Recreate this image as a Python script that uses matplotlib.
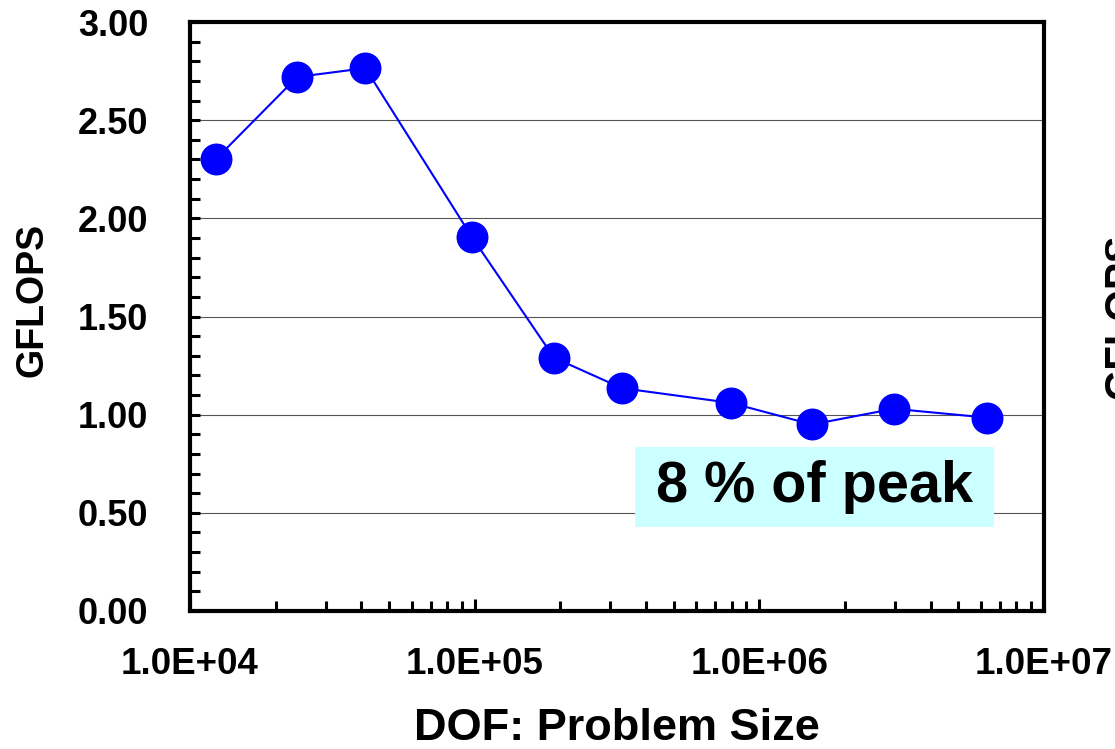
import matplotlib.pyplot as plt
import matplotlib.patches as patches
import matplotlib.ticker as ticker
import numpy as np

# Problem size (degrees of freedom) and measured performance
dof = [1.23e4, 2.38e4, 4.13e4, 9.78e4, 1.90e5, 3.29e5, 7.94e5, 1.53e6, 2.97e6, 6.30e6]
gflops = [2.30, 2.72, 2.765, 1.905, 1.29, 1.135, 1.06, 0.95, 1.03, 0.985]

x_ticks = [1e4, 1e5, 1e6, 1e7]
x_tick_labels = ['1.0E+04', '1.0E+05', '1.0E+06', '1.0E+07']
y_ticks = [0.0, 0.5, 1.0, 1.5, 2.0, 2.5, 3.0]

plt.rcParams['font.family'] = ['Liberation Sans', 'DejaVu Sans']
plt.rcParams['font.weight'] = 'bold'

fig = plt.figure(figsize=(11.15, 7.49), dpi=100)
ax = fig.add_axes([190 / 1115, 138 / 749, 854 / 1115, 589 / 749])

ax.plot(dof, gflops, color='#0000FF', linewidth=1.5, marker='o',
        markersize=23, markeredgewidth=0, zorder=5)

ax.set_xscale('log')
ax.set_xlim(1e4, 1e7)
ax.set_ylim(0, 3)
ax.set_xticks(x_ticks)
ax.xaxis.set_major_formatter(ticker.FixedFormatter(x_tick_labels))
ax.xaxis.set_minor_locator(ticker.LogLocator(base=10, subs=np.arange(2, 10)))
ax.xaxis.set_minor_formatter(ticker.NullFormatter())
ax.set_yticks(y_ticks)
ax.yaxis.set_major_formatter(ticker.FormatStrFormatter('%.2f'))
ax.yaxis.set_minor_locator(ticker.MultipleLocator(0.1))

ax.tick_params(which='both', direction='in', width=2.2, colors='black')
ax.tick_params(axis='x', which='major', length=9, pad=26, labelsize=26.5)
ax.tick_params(axis='x', which='minor', length=7)
ax.tick_params(axis='y', which='major', length=7, pad=30, labelsize=26)
ax.tick_params(axis='y', which='minor', length=7)
for s in ax.spines.values():
    s.set_linewidth(3)

ax.grid(axis='y', which='major', color='#555555', linewidth=0.8)
ax.set_axisbelow(True)

# axis titles
fig.text(33 / 1115, 1 - 300 / 749, 'GFLOPS', rotation=90, ha='center',
         va='center', fontsize=27, fontweight='bold')
fig.text(617 / 1115, 1 - 729 / 749, 'DOF: Problem Size', ha='center',
         va='center', fontsize=32.5, fontweight='bold')

# highlighted annotation
box = patches.Rectangle((0.521, 0.1426), 0.42, 0.1355, transform=ax.transAxes,
                        facecolor='#CCFFFF', edgecolor='none', zorder=3)
ax.add_patch(box)
ax.text(0.731, 0.2105, '8 % of peak', transform=ax.transAxes, ha='center',
        va='center', fontsize=41.5, fontweight='bold', zorder=4)

# clipped label of the neighbouring panel
fig.text(1102 / 1115, 1 - 316 / 749, 'GFLOPS', rotation=90, ha='left',
         va='center', fontsize=29, fontweight='bold')

fig.savefig('out.png', dpi=100)
